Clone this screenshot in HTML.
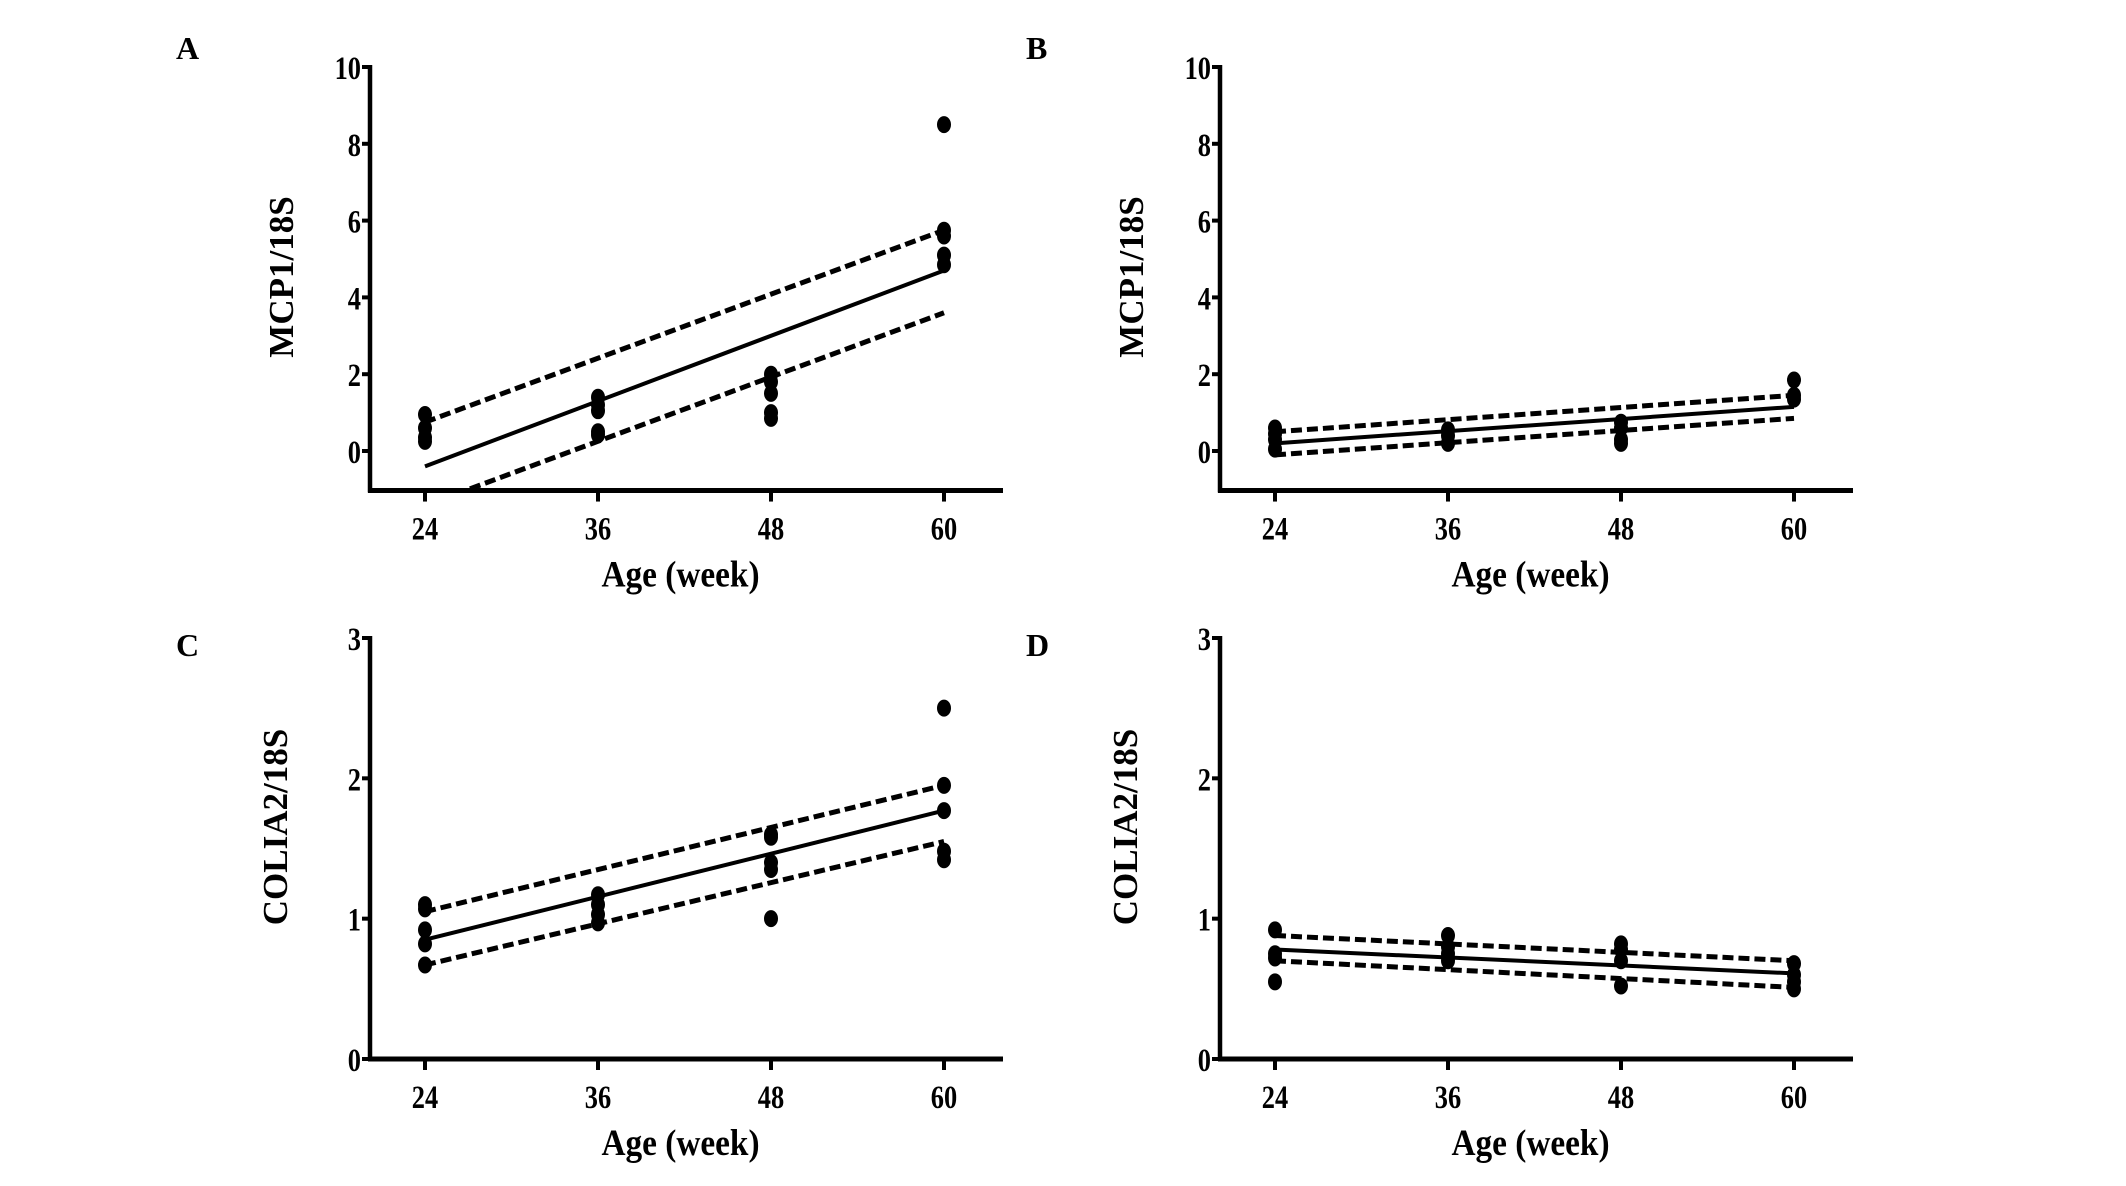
<!DOCTYPE html>
<html><head><meta charset="utf-8">
<style>
html,body{margin:0;padding:0;background:#fff;}
svg{display:block;}
text{font-family:"Liberation Serif",serif;font-weight:bold;fill:#000;}
</style></head>
<body>
<svg id="fig" width="2126" height="1186" viewBox="0 0 2126 1186" xmlns="http://www.w3.org/2000/svg"></svg>
<script>
// ---- data ----
const ageTicks = [24, 36, 48, 60];
const mcpTicks = [0, 2, 4, 6, 8, 10];
const colTicks = [0, 1, 2, 3];

const aAges = [24,24,24,24, 36,36,36,36,36, 48,48,48,48,48, 60,60,60,60,60];
const aVals = [0.95,0.6,0.35,0.25, 1.4,1.2,1.05,0.5,0.42, 2.0,1.8,1.5,1.0,0.85, 8.5,5.75,5.6,5.1,4.85];
const aFit = [-0.4, 4.7];
const aUpper = [0.75, 5.75];
const aLower = [-1.42, 3.6];

const bAges = [24,24,24,24, 36,36,36, 48,48,48,48, 60,60,60];
const bVals = [0.6,0.45,0.3,0.05, 0.55,0.4,0.2, 0.75,0.6,0.3,0.2, 1.85,1.45,1.35];
const bFit = [0.2, 1.15];
const bUpper = [0.5, 1.45];
const bLower = [-0.1, 0.85];

const cAges = [24,24,24,24,24, 36,36,36,36, 48,48,48,48,48, 60,60,60,60,60];
const cVals = [1.1,1.07,0.92,0.82,0.67, 1.17,1.1,1.03,0.97, 1.6,1.58,1.4,1.35,1.0, 2.5,1.95,1.77,1.48,1.42];
const cFit = [0.85, 1.77];
const cUpper = [1.05, 1.95];
const cLower = [0.67, 1.55];

const dAges = [24,24,24,24, 36,36,36,36, 48,48,48,48, 60,60,60,60];
const dVals = [0.92,0.75,0.72,0.55, 0.88,0.8,0.75,0.7, 0.82,0.78,0.7,0.52, 0.68,0.6,0.55,0.5];
const dFit = [0.78, 0.61];
const dUpper = [0.88, 0.7];
const dLower = [0.7, 0.51];

const NS = "http://www.w3.org/2000/svg";
const svg = document.getElementById('fig');
function mk(tag, attrs, parent){
  const e = document.createElementNS(NS, tag);
  for (const k in attrs) e.setAttribute(k, attrs[k]);
  (parent||svg).appendChild(e);
  return e;
}

function panel(o){
  const g = mk('g', {});
  
  
  const xs = v => o.x0 + (v - 24) * (o.x60 - o.x0) / 36;
  const ys = v => o.yZero - v * (o.yZero - o.yTop) / o.yMax;
  const yBottom = ys(o.yMin);

  const clipId = 'clip' + o.letter;
  const cp = mk('clipPath', {id: clipId}, g);
  mk('rect', {x: o.axisX, y: o.yTop - 60, width: o.axisEnd - o.axisX, height: yBottom - o.yTop + 60}, cp);

  const L = mk('text', {x: o.letterX, y: o.letterY, 'font-size': 32}, g);
  L.textContent = o.letter;
  
  

  const ya = mk('line', {x1: o.axisX, y1: o.yTop - 2, x2: o.axisX, y2: yBottom + 2, stroke: '#000', 'stroke-width': 4.5}, g);
  
  
  const xa = mk('line', {x1: o.axisX - 2, y1: yBottom, x2: o.axisEnd, y2: yBottom, stroke: '#000', 'stroke-width': 5}, g);
  
  

  o.yTicks.forEach(t => {
    const y = ys(t);
    mk('line', {x1: o.axisX - 8, y1: y, x2: o.axisX, y2: y, stroke: '#000', 'stroke-width': 4}, g);
    const tx = mk('text', {x: 0, y: 0, 'font-size': 33, 'text-anchor': 'end', transform: 'translate(' + (o.axisX - 9) + ',' + (y + 12) + ') scale(0.8,1)'}, g);
    tx.textContent = t;
    
    
  });
  ageTicks.forEach(t => {
    const x = xs(t);
    mk('line', {x1: x, y1: yBottom, x2: x, y2: yBottom + 11, stroke: '#000', 'stroke-width': 4}, g);
    const tx = mk('text', {x: 0, y: 0, 'font-size': 33, 'text-anchor': 'middle', transform: 'translate(' + x + ',' + (yBottom + 49) + ') scale(0.8,1)'}, g);
    tx.textContent = t;
    
    
  });

  const xt = mk('text', {x: 0, y: 0, 'font-size': 37, 'text-anchor': 'middle', transform: 'translate(' + ((xs(24) + xs(60)) / 2 - 4) + ',' + (yBottom + 96) + ') scale(0.9,1)'}, g);
  xt.textContent = 'Age (week)';
  
  

  const yt = mk('text', {x: 0, y: 0, 'font-size': 35, 'text-anchor': 'middle', transform: 'translate(' + (o.titleX + 12) + ',' + o.titleY + ') rotate(-90)'}, g);
  yt.textContent = o.yTitle;
  
  

  o.ages.forEach((a, i) => {
    const c = mk('ellipse', {cx: xs(a), cy: ys(o.vals[i]), rx: 7, ry: 8.5, fill: '#000'}, g);
    
    
  });

  const lg = mk('g', {'clip-path': 'url(#' + clipId + ')'}, g);
  const fl = mk('line', {x1: xs(24), y1: ys(o.fit[0]), x2: xs(60), y2: ys(o.fit[1]), stroke: '#000', 'stroke-width': 4}, lg);
  
  
  const up = mk('line', {x1: xs(24), y1: ys(o.upper[0]), x2: xs(60), y2: ys(o.upper[1]), stroke: '#000', 'stroke-width': 5, 'stroke-dasharray': '11 5'}, lg);
  
  
  const lo = mk('line', {x1: xs(24), y1: ys(o.lower[0]), x2: xs(60), y2: ys(o.lower[1]), stroke: '#000', 'stroke-width': 5, 'stroke-dasharray': '11 5'}, lg);
  
  
}

const dx = 850;
panel({letter:'A', letterX:176, letterY:59, axisX:370, axisEnd:1003, x0:425, x60:944,
  yTop:67, yZero:451, yMax:10, yMin:-1.03, yTicks:mcpTicks, yTitle:'MCP1/18S', titleX:281, titleY:277,
  ages:aAges, vals:aVals, fit:aFit, upper:aUpper, lower:aLower});
panel({letter:'B', letterX:176+dx, letterY:59, axisX:370+dx, axisEnd:1003+dx, x0:425+dx, x60:944+dx,
  yTop:67, yZero:451, yMax:10, yMin:-1.03, yTicks:mcpTicks, yTitle:'MCP1/18S', titleX:281+dx, titleY:277,
  ages:bAges, vals:bVals, fit:bFit, upper:bUpper, lower:bLower});
panel({letter:'C', letterX:176, letterY:656, axisX:370, axisEnd:1003, x0:425, x60:944,
  yTop:638, yZero:1059, yMax:3, yMin:0, yTicks:colTicks, yTitle:'COLIA2/18S', titleX:275, titleY:827,
  ages:cAges, vals:cVals, fit:cFit, upper:cUpper, lower:cLower});
panel({letter:'D', letterX:176+dx, letterY:656, axisX:370+dx, axisEnd:1003+dx, x0:425+dx, x60:944+dx,
  yTop:638, yZero:1059, yMax:3, yMin:0, yTicks:colTicks, yTitle:'COLIA2/18S', titleX:275+dx, titleY:827,
  ages:dAges, vals:dVals, fit:dFit, upper:dUpper, lower:dLower});
</script>
</body></html>
